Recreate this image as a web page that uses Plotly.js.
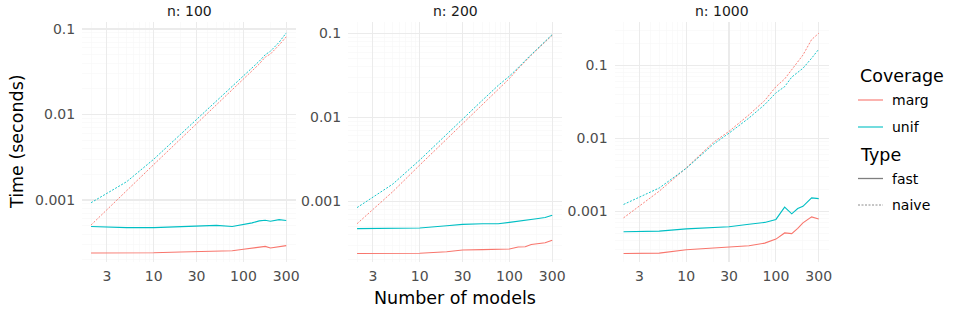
<!DOCTYPE html>
<html><head><meta charset="utf-8">
<script src="https://cdn.plot.ly/plotly-3.0.1.min.js"></script>
<style>html,body{margin:0;padding:0;background:#fff}</style>
</head><body><div id="chart" style="width:953px;height:318px"></div>
<script>
// ---- data ----
const models = [2, 5, 10, 20, 30, 50, 75, 100, 125, 150, 175, 200, 250, 300];
const panelTitles = ['n: 100', 'n: 200', 'n: 1000'];
const xTickVals = [3, 10, 30, 100, 300];
const xTickText = ['3', '10', '30', '100', '300'];
const yTickVals = [0.001, 0.01, 0.1];
const yTickText = ['0.001', '0.01', '0.1'];
const coverageLevels = ['marg', 'unif'];
const typeLevels = ['fast', 'naive'];

const n100_marg_fast  = [2.4e-4, 2.4e-4, 2.42e-4, 2.47e-4, 2.5e-4, 2.55e-4, 2.55e-4, 2.65e-4, 2.72e-4, 2.8e-4, 2.87e-4, 2.75e-4, 2.85e-4, 2.93e-4];
const n100_unif_fast  = [4.9e-4, 4.75e-4, 4.75e-4, 4.85e-4, 4.95e-4, 5.05e-4, 4.9e-4, 5.15e-4, 5.4e-4, 5.7e-4, 5.8e-4, 5.65e-4, 5.9e-4, 5.75e-4];
const n100_marg_naive = [5.1e-4, 1.3e-3, 2.6e-3, 5.2e-3, 7.8e-3, 1.3e-2, 1.95e-2, 2.6e-2, 3.3e-2, 3.9e-2, 4.7e-2, 5.1e-2, 6.5e-2, 8.1e-2];
const n100_unif_naive = [9.3e-4, 1.64e-3, 3.0e-3, 5.9e-3, 8.7e-3, 1.45e-2, 2.1e-2, 2.8e-2, 3.5e-2, 4.2e-2, 5.0e-2, 5.5e-2, 7.0e-2, 9.0e-2];

const n200_marg_fast  = [2.38e-4, 2.37e-4, 2.4e-4, 2.5e-4, 2.62e-4, 2.65e-4, 2.7e-4, 2.7e-4, 2.85e-4, 2.87e-4, 3.05e-4, 3.1e-4, 3.2e-4, 3.43e-4];
const n200_unif_fast  = [4.72e-4, 4.8e-4, 4.8e-4, 5.1e-4, 5.3e-4, 5.4e-4, 5.4e-4, 5.6e-4, 5.75e-4, 5.9e-4, 6.1e-4, 6.2e-4, 6.4e-4, 6.8e-4];
const n200_marg_naive = [5.4e-4, 1.3e-3, 2.7e-3, 5.5e-3, 8.5e-3, 1.4e-2, 2.15e-2, 2.9e-2, 3.8e-2, 4.7e-2, 5.5e-2, 6.3e-2, 7.9e-2, 9.5e-2];
const n200_unif_naive = [8.4e-4, 1.6e-3, 3.1e-3, 6.3e-3, 9.7e-3, 1.6e-2, 2.4e-2, 3.1e-2, 3.9e-2, 4.8e-2, 5.6e-2, 6.4e-2, 8.0e-2, 9.7e-2];

const n1000_marg_fast  = [2.67e-4, 2.7e-4, 3.0e-4, 3.15e-4, 3.25e-4, 3.4e-4, 3.7e-4, 4.2e-4, 5.1e-4, 5.0e-4, 5.9e-4, 7.0e-4, 8.45e-4, 7.9e-4];
const n1000_unif_fast  = [5.3e-4, 5.4e-4, 5.8e-4, 6.0e-4, 6.2e-4, 6.7e-4, 7.1e-4, 7.8e-4, 1.15e-3, 9.3e-4, 1.1e-3, 1.18e-3, 1.54e-3, 1.5e-3];
const n1000_marg_naive = [8.2e-4, 1.9e-3, 3.95e-3, 8.8e-3, 1.25e-2, 2.1e-2, 3.3e-2, 5.1e-2, 6.5e-2, 8.6e-2, 1.1e-1, 1.38e-1, 2.25e-1, 2.74e-1];
const n1000_unif_naive = [1.25e-3, 2.1e-3, 3.9e-3, 8.3e-3, 1.18e-2, 1.9e-2, 2.9e-2, 4.2e-2, 5.1e-2, 6.9e-2, 8.0e-2, 9.1e-2, 1.25e-1, 1.66e-1];

// ---- styling ----
const colMarg = '#F8766D', colUnif = '#00BFC4', colType = '#7f7f7f';
const FONT = 'DejaVu Sans, sans-serif';
const DASH = '2px,1.5px';

const panels = [
  {ax: '',  series: [n100_marg_fast, n100_unif_fast, n100_marg_naive, n100_unif_naive]},
  {ax: '2', series: [n200_marg_fast, n200_unif_fast, n200_marg_naive, n200_unif_naive]},
  {ax: '3', series: [n1000_marg_fast, n1000_unif_fast, n1000_marg_naive, n1000_unif_naive]}
];
const styles = [
  {color: colMarg, dash: 'solid', width: 1.1},
  {color: colUnif, dash: 'solid', width: 1.1},
  {color: colMarg, dash: DASH, width: 0.9},
  {color: colUnif, dash: DASH, width: 0.9}
];

const traces = [];
panels.forEach(p => {
  p.series.forEach((s, i) => {
    traces.push({
      type: 'scatter', mode: 'lines', x: models, y: s,
      xaxis: 'x' + p.ax, yaxis: 'y' + p.ax,
      line: {color: styles[i].color, dash: styles[i].dash, width: styles[i].width},
      showlegend: false, hoverinfo: 'skip'
    });
  });
});

const W = 953, H = 318;
const plotTop = 22, plotBot = 262;
const xDomains = [[82, 296], [348, 562], [614.5, 828.5]];
const yRanges = [[-3.725, -0.918], [-3.724, -0.864], [-3.69, -0.408]];
const TICK = 14, TITLE = 17.5;

const layout = {
  width: W, height: H, margin: {l: 0, r: 0, t: 0, b: 0},
  paper_bgcolor: '#fff', plot_bgcolor: '#fff',
  font: {family: FONT, color: '#4d4d4d', size: TICK},
  showlegend: false,
  annotations: [],
  shapes: []
};

xDomains.forEach((d, i) => {
  const sfx = i === 0 ? '' : String(i + 1);
  layout['xaxis' + sfx] = {
    domain: [d[0] / W, d[1] / W], anchor: 'y' + sfx, type: 'log', range: [0.2, 2.586],
    tickmode: 'array', tickvals: xTickVals, ticktext: xTickText,
    showgrid: true, gridcolor: '#ebebeb', gridwidth: 1.1, zeroline: false, showline: false,
    ticks: 'outside', ticklen: 1, tickcolor: 'rgba(0,0,0,0)',
    tickfont: {size: TICK, color: '#4d4d4d', family: FONT},
    minor: {showgrid: true, gridcolor: '#f6f6f6', gridwidth: 0.6, dtick: 'D1'}
  };
  layout['yaxis' + sfx] = {
    domain: [1 - plotBot / H, 1 - plotTop / H], anchor: 'x' + sfx, type: 'log', range: yRanges[i],
    tickmode: 'array', tickvals: yTickVals, ticktext: yTickText,
    showgrid: true, gridcolor: '#ebebeb', gridwidth: 1.1, zeroline: false, showline: false,
    ticks: 'outside', ticklen: 3, tickcolor: 'rgba(0,0,0,0)',
    tickfont: {size: TICK, color: '#4d4d4d', family: FONT},
    minor: {showgrid: true, gridcolor: '#f6f6f6', gridwidth: 0.6, dtick: 'D1'}
  };
  layout.annotations.push({
    text: panelTitles[i], xref: 'paper', yref: 'paper', x: (d[0] + d[1]) / 2 / W, y: 1 - 11 / H,
    xanchor: 'center', yanchor: 'middle', showarrow: false, font: {size: TICK, color: '#1a1a1a', family: FONT}
  });
});
layout.annotations.push({
  text: 'Number of models', xref: 'paper', yref: 'paper', x: 455 / W, y: 1 - 298 / H,
  xanchor: 'center', yanchor: 'middle', showarrow: false, font: {size: TITLE, color: '#000', family: FONT}
});
layout.annotations.push({
  text: 'Time (seconds)', xref: 'paper', yref: 'paper', x: 17 / W, y: 1 - 142 / H, textangle: -90,
  xanchor: 'center', yanchor: 'middle', showarrow: false, font: {size: TITLE, color: '#000', family: FONT}
});

// ---- legend (drawn manually for ggplot-like spacing) ----
const legX0 = 858, legX1 = 883, legTextX = 890;
function legTitle(txt, y) {
  layout.annotations.push({text: txt, xref: 'paper', yref: 'paper', x: legX0 / W, y: 1 - y / H,
    xanchor: 'left', yanchor: 'middle', showarrow: false, font: {size: TITLE, color: '#000', family: FONT}});
}
function legItem(txt, y, color, dash, width) {
  layout.shapes.push({type: 'line', xref: 'paper', yref: 'paper', x0: legX0 / W, x1: legX1 / W,
    y0: 1 - y / H, y1: 1 - y / H, line: {color: color, width: width, dash: dash}});
  layout.annotations.push({text: txt, xref: 'paper', yref: 'paper', x: legTextX / W, y: 1 - y / H,
    xanchor: 'left', yanchor: 'middle', showarrow: false, font: {size: TICK, color: '#000', family: FONT}});
}
legTitle('Coverage', 76);
legItem(coverageLevels[0], 100, colMarg, 'solid', 1.1);
legItem(coverageLevels[1], 127, colUnif, 'solid', 1.1);
legTitle('Type', 155);
legItem(typeLevels[0], 178.5, colType, 'solid', 1.3);
legItem(typeLevels[1], 205, colType, DASH, 0.9);

Plotly.newPlot('chart', traces, layout, {displayModeBar: false, staticPlot: true});
</script>
</body></html>
